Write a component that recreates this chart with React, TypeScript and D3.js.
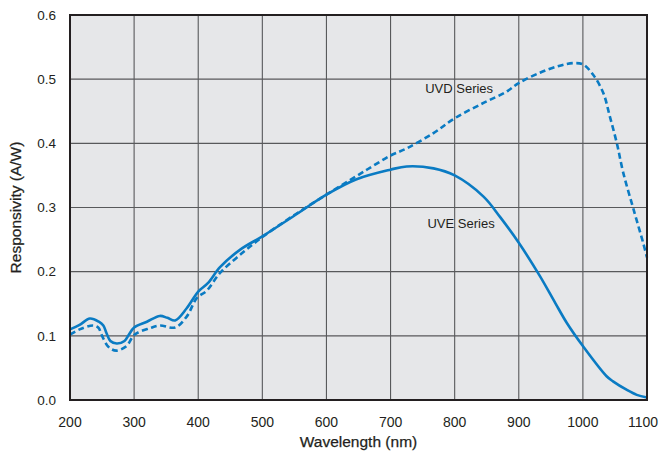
import React from "react";
import * as d3 from "d3";

const uveWavelength = [200, 215, 231, 245, 252, 257, 263, 273, 285, 292, 300, 320, 340, 352, 364, 382, 400, 415, 434, 465, 500, 548, 600, 647, 700, 725, 767, 800, 845, 871, 900, 933, 957, 975, 1000, 1037, 1047, 1068, 1084, 1100];
const uveValues = [0.110, 0.117, 0.127, 0.122, 0.116, 0.104, 0.092, 0.088, 0.092, 0.102, 0.113, 0.122, 0.131, 0.128, 0.124, 0.143, 0.169, 0.182, 0.207, 0.234, 0.255, 0.286, 0.320, 0.344, 0.359, 0.364, 0.361, 0.350, 0.317, 0.285, 0.245, 0.193, 0.151, 0.120, 0.084, 0.037, 0.029, 0.016, 0.008, 0.004];

const uvdWavelength = [200, 215, 236, 244, 250, 258, 265, 273, 288, 301, 325, 340, 364, 382, 398, 413, 434, 465, 500, 548, 600, 647, 673, 700, 725, 767, 800, 845, 880, 900, 933, 964, 985, 1000, 1016, 1032, 1042, 1053, 1063, 1079, 1094, 1100];
const uvdValues = [0.102, 0.110, 0.116, 0.113, 0.100, 0.085, 0.079, 0.077, 0.084, 0.102, 0.112, 0.116, 0.113, 0.130, 0.159, 0.170, 0.198, 0.226, 0.254, 0.287, 0.320, 0.349, 0.365, 0.381, 0.392, 0.416, 0.439, 0.463, 0.480, 0.494, 0.510, 0.521, 0.525, 0.523, 0.507, 0.478, 0.442, 0.400, 0.354, 0.297, 0.245, 0.222];

const xTicks = [200, 300, 400, 500, 600, 700, 800, 900, 1000, 1100];
const yTicks = [0, 0.1, 0.2, 0.3, 0.4, 0.5, 0.6];

const seriesLabels = [
  { text: "UVD Series", wl: 807, val: 0.478 },
  { text: "UVE Series", wl: 810, val: 0.268 },
];

const W = 660;
const H = 452;
const left = 70, right = 647, top = 15, bottom = 400;
const blue = "#0a7bc3";
const font = "'Liberation Sans', Arial, Helvetica, sans-serif";

export default function App() {
  const x = d3.scaleLinear().domain([200, 1100]).range([left, right]);
  const y = d3.scaleLinear().domain([0, 0.6]).range([bottom, top]);
  const line = d3
    .line<[number, number]>()
    .x((d) => x(d[0]))
    .y((d) => y(d[1]))
    .curve(d3.curveCatmullRom.alpha(0.5));
  const uve = uveWavelength.map((w, i) => [w, uveValues[i]] as [number, number]);
  const uvd = uvdWavelength.map((w, i) => [w, uvdValues[i]] as [number, number]);
  const lastTick = xTicks[xTicks.length - 1];

  return (
    <svg width={W} height={H} style={{ position: "absolute", left: 0, top: 0 }} fontFamily={font}>
      <rect x={0} y={0} width={W} height={H} fill="#ffffff" />
      <rect x={left} y={top} width={right - left} height={bottom - top} fill="#e6e7e9" />
      {xTicks.slice(1, -1).map((t) => (
        <line key={"gx" + t} x1={x(t)} x2={x(t)} y1={top} y2={bottom} stroke="#58595b" strokeWidth={1.1} />
      ))}
      {yTicks.slice(1, -1).map((t) => (
        <line key={"gy" + t} x1={left} x2={right} y1={y(t)} y2={y(t)} stroke="#58595b" strokeWidth={1.1} />
      ))}
      <path d={line(uvd) || ""} fill="none" stroke={blue} strokeWidth={2.6} strokeDasharray="6,3.5" />
      <path d={line(uve) || ""} fill="none" stroke={blue} strokeWidth={2.6} />
      <rect x={left} y={top} width={right - left} height={bottom - top} fill="none" stroke="#231f20" strokeWidth={2} />
      {xTicks.map((t) => (
        <text
          key={"tx" + t}
          x={t === lastTick ? W - 2 : x(t)}
          y={427}
          textAnchor={t === lastTick ? "end" : "middle"}
          fontSize={14}
          fill="#231f20"
        >
          {t}
        </text>
      ))}
      {yTicks.map((t) => (
        <text key={"ty" + t} x={56} y={y(t) + 4.8} textAnchor="end" fontSize={13.5} fill="#231f20">
          {t.toFixed(1)}
        </text>
      ))}
      {seriesLabels.map((l) => (
        <text key={l.text} x={x(l.wl)} y={y(l.val)} textAnchor="middle" fontSize={13} fill="#231f20">
          {l.text}
        </text>
      ))}
      <text x={(left + right) / 2} y={447} textAnchor="middle" fontSize={15.5} fill="#231f20" stroke="#231f20" strokeWidth={0.25}>
        Wavelength (nm)
      </text>
      <text
        transform={`translate(21, ${(top + bottom) / 2}) rotate(-90)`}
        textAnchor="middle"
        fontSize={15.5}
        fill="#231f20"
        stroke="#231f20"
        strokeWidth={0.25}
      >
        Responsivity (A/W)
      </text>
    </svg>
  );
}
